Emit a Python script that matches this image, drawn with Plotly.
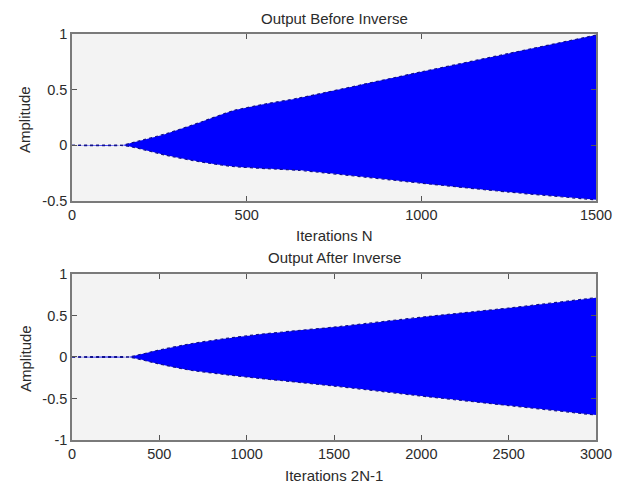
import plotly.graph_objects as go

# Envelope of the filter output before the inverse transform (N samples)
before_x = [0, 140, 180, 270, 370, 460, 560, 650, 1000, 1250, 1500]
before_upper = [0, 0, 0.03, 0.105, 0.21, 0.31, 0.375, 0.425, 0.66, 0.825, 0.99]
before_lower = [0, 0, -0.02, -0.09, -0.15, -0.19, -0.21, -0.225, -0.34, -0.42, -0.49]

# Envelope of the output after the inverse transform (2N-1 samples)
after_x = [0, 320, 490, 680, 870, 1060, 1250, 1500, 2000, 2500, 3000]
after_upper = [0, 0, 0.08, 0.16, 0.22, 0.27, 0.31, 0.36, 0.48, 0.59, 0.715]
after_lower = [0, 0, -0.08, -0.16, -0.21, -0.255, -0.295, -0.35, -0.47, -0.585, -0.70]

before_xticks = [0, 500, 1000, 1500]
before_yticks = [-0.5, 0, 0.5, 1]
after_xticks = [0, 500, 1000, 1500, 2000, 2500, 3000]
after_yticks = [-1, -0.5, 0, 0.5, 1]

FILL = "#0000ff"
EDGE = "#10108a"
FONT = "Liberation Sans, Arial, sans-serif"
TEXT = "#2b2b2b"
AXIS = "#7a7a7a"

fig = go.Figure()


def add_envelope(xs, up, lo, xa, ya):
    # filled band between the upper and lower envelope
    fig.add_trace(go.Scatter(
        x=xs, y=lo, xaxis=xa, yaxis=ya, mode="lines",
        line=dict(color=EDGE, width=1.2, dash="dot", shape="spline", smoothing=0.6),
        hoverinfo="skip", showlegend=False))
    fig.add_trace(go.Scatter(
        x=xs, y=up, xaxis=xa, yaxis=ya, mode="lines", fill="tonexty",
        fillcolor=FILL,
        line=dict(color=EDGE, width=1.2, dash="dot", shape="spline", smoothing=0.6),
        hoverinfo="skip", showlegend=False))


add_envelope(before_x, before_upper, before_lower, "x", "y")
add_envelope(after_x, after_upper, after_lower, "x2", "y2")


def fmt(v):
    return f"{v:g}"


axis_common = dict(
    showgrid=False, zeroline=False, showline=True, linecolor=AXIS, linewidth=1.5,
    mirror="allticks", ticks="inside", ticklen=5, tickcolor="#555555",
    tickfont=dict(family=FONT, size=14.5, color=TEXT),
)

fig.update_layout(
    width=623, height=483,
    margin=dict(l=72, r=27, t=34, b=43),
    paper_bgcolor="white", plot_bgcolor="#f3f3f3",
    xaxis=dict(domain=[0, 1], anchor="y", range=[0, 1500],
               tickvals=before_xticks, ticktext=[fmt(v) for v in before_xticks],
               **axis_common),
    yaxis=dict(domain=[0.5887, 1], anchor="x", range=[-0.5, 1],
               tickvals=before_yticks, ticktext=[fmt(v) for v in before_yticks],
               **axis_common),
    xaxis2=dict(domain=[0, 1], anchor="y2", range=[0, 3000],
                tickvals=after_xticks, ticktext=[fmt(v) for v in after_xticks],
                **axis_common),
    yaxis2=dict(domain=[0, 0.4089], anchor="x2", range=[-1, 1],
                tickvals=after_yticks, ticktext=[fmt(v) for v in after_yticks],
                **axis_common),
)

labels = [
    ("Output Before Inverse", 0.5, 18),
    ("Iterations N", 0.5, 235),
    ("Output After Inverse", 0.5, 257),
    ("Iterations 2N-1", 0.5, 475),
]
H = 483
T, B = 34, 43
plot_h = H - T - B
for text, xp, ypix in labels:
    fig.add_annotation(text=text, xref="paper", yref="paper", x=xp,
                       y=(H - B - ypix) / plot_h, showarrow=False,
                       xanchor="center", yanchor="middle",
                       font=dict(family=FONT, size=15, color=TEXT))

for ypix in (120, 359):
    fig.add_annotation(text="Amplitude", xref="paper", yref="paper",
                       x=(25 - 72) / (623 - 72 - 27), y=(H - B - ypix) / plot_h,
                       showarrow=False, textangle=-90,
                       xanchor="center", yanchor="middle",
                       font=dict(family=FONT, size=15, color=TEXT))

fig.write_html("out.html")
